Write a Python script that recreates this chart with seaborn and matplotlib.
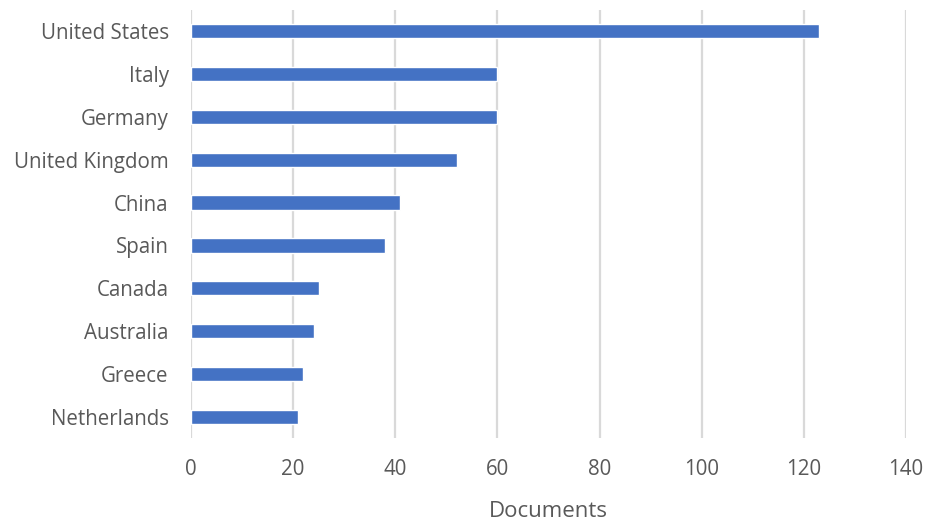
import matplotlib
matplotlib.use("Agg")
import matplotlib.pyplot as plt
import seaborn as sns
import pandas as pd

countries = ["United States", "Italy", "Germany", "United Kingdom", "China",
             "Spain", "Canada", "Australia", "Greece", "Netherlands"]
documents = [123, 60, 60, 52, 41, 38, 25, 24, 22, 21]
xticks = [0, 20, 40, 60, 80, 100, 120, 140]

df = pd.DataFrame({"Country": countries, "Documents": documents})

sns.set_theme(style="white")
plt.rcParams['font.family'] = ['Open Sans', 'DejaVu Sans']

fig = plt.figure(figsize=(9.27, 5.21), dpi=100)
ax = fig.add_axes([0.206, 0.1585, 0.7713, 0.8231])

sns.barplot(data=df, x="Documents", y="Country", color="#4472C4", width=0.33,
            saturation=1, ax=ax, zorder=3)

ax.set_xlim(0, 140)
ax.set_xticks(xticks)
ax.set_xticklabels([str(t) for t in xticks])
ax.grid(axis="x", color="#d9d9d9", linewidth=1.6, zorder=0)
ax.grid(axis="y", visible=False)
for s in ax.spines.values():
    s.set_visible(False)
ax.tick_params(axis="both", length=0, labelsize=14.8, colors="#595959")
ax.tick_params(axis="y", pad=16)
ax.tick_params(axis="x", pad=15)
ax.set_ylabel("")
ax.set_xlabel("Documents", fontsize=16, color="#595959", labelpad=15)

fig.savefig("out.png", dpi=100)
